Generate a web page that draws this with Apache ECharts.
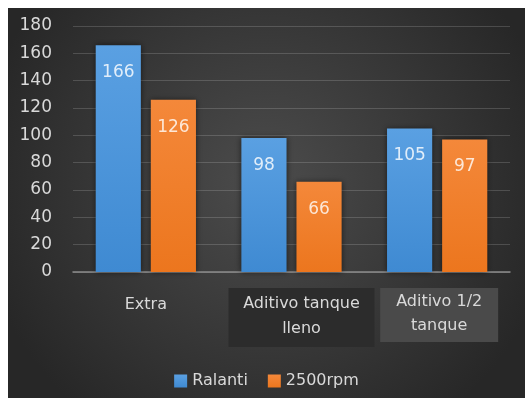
<!DOCTYPE html>
<html>
<head>
<meta charset="utf-8">
<script src="https://cdn.jsdelivr.net/npm/echarts@6/dist/echarts.min.js"></script>
<style>
  html, body { margin: 0; padding: 0; background: #ffffff; }
  #chart { position: absolute; left: 8px; top: 8px; width: 517px; height: 390px; }
</style>
</head>
<body>
<div id="chart"></div>
<script>
// Chart data
const categories = ['Extra', 'Aditivo tanque\nlleno', 'Aditivo 1/2\ntanque'];
const ralanti = [166, 98, 105];
const rpm2500 = [126, 66, 97];
const yTicks = [0, 20, 40, 60, 80, 100, 120, 140, 160, 180];

const FONT = '"DejaVu Sans", "Noto Sans", sans-serif';
const TXT = '#d9d9d9';
const chart = echarts.init(document.getElementById('chart'));

// Label box styles per category (index in categories)
const boxStyle = ['n', 'd', 'l'];
// Transparent spacer tokens placed before each line to nudge a box rightwards
const spacer = ['', '{sp20|}', '{sp4|}'];

function barColor(top, bottom) {
  return new echarts.graphic.LinearGradient(0, 0, 0, 1, [
    { offset: 0, color: top },
    { offset: 1, color: bottom }
  ]);
}

// Rich-text token with a fixed box height
function tok(width, h, bg) {
  const t = {
    color: TXT, fontSize: 16, fontFamily: FONT,
    height: h, lineHeight: h, align: 'center'
  };
  if (width) t.width = width;
  if (bg) t.backgroundColor = bg;
  return t;
}

chart.setOption({
  animation: false,
  backgroundColor: new echarts.graphic.RadialGradient(0.5, 0.45, 0.75, [
    { offset: 0, color: '#4c4c4c' },
    { offset: 1, color: '#272727' }
  ]),
  textStyle: { fontFamily: FONT },
  grid: { left: 65, right: 15, top: 18, bottom: 126 },
  legend: {
    bottom: 4,
    left: 'center',
    itemWidth: 13,
    itemHeight: 13,
    itemGap: 20,
    icon: 'rect',
    textStyle: { color: TXT, fontSize: 16, fontFamily: FONT },
    data: ['Ralanti', '2500rpm']
  },
  xAxis: {
    type: 'category',
    data: categories,
    axisLine: { show: true, lineStyle: { color: '#8c8c8c', width: 1.5 } },
    axisTick: { show: false },
    axisLabel: {
      interval: 0,
      margin: 16,
      color: TXT,
      fontSize: 16,
      fontFamily: FONT,
      formatter: function (value, idx) {
        const s = boxStyle[idx];
        const p = spacer[idx];
        const lines = value.split('\n');
        if (lines.length === 1) return '{' + s + '1|' + lines[0] + '}';
        // trailing empty token extends the box below the second line
        return p + '{' + s + '1|' + lines[0] + '}\n' +
               p + '{' + s + '2|' + lines[1] + '}\n' +
               p + '{' + s + '3| }';
      },
      rich: {
        sp20: { width: 20, height: 1 },
        sp4: { width: 4, height: 1 },
        n1: tok(0, 33),
        d1: tok(146, 32, '#2c2c2c'),
        d2: tok(146, 18, '#2c2c2c'),
        d3: tok(146, 9, '#2c2c2c'),
        l1: tok(118, 28, '#4a4a4a'),
        l2: tok(118, 20, '#4a4a4a'),
        l3: tok(118, 6, '#4a4a4a')
      }
    }
  },
  yAxis: {
    type: 'value',
    min: yTicks[0],
    max: yTicks[yTicks.length - 1],
    interval: yTicks[1] - yTicks[0],
    axisLine: { show: false },
    axisTick: { show: false },
    splitLine: { lineStyle: { color: 'rgba(255,255,255,0.16)', width: 1 } },
    axisLabel: { color: TXT, fontSize: 17, fontFamily: FONT, margin: 21 }
  },
  series: [
    {
      name: 'Ralanti',
      type: 'bar',
      data: ralanti,
      barWidth: '31%',
      barGap: '22%',
      itemStyle: {
        color: barColor('#5aa0e2', '#3f8ad2'),
        shadowBlur: 6,
        shadowColor: 'rgba(0,0,0,0.55)'
      },
      label: {
        show: true,
        position: 'insideTop',
        distance: 19,
        color: 'rgba(255,255,255,0.82)',
        fontSize: 17,
        fontFamily: FONT
      }
    },
    {
      name: '2500rpm',
      type: 'bar',
      data: rpm2500,
      barWidth: '31%',
      itemStyle: {
        color: barColor('#f4883a', '#ec761e'),
        shadowBlur: 6,
        shadowColor: 'rgba(0,0,0,0.55)'
      },
      label: {
        show: true,
        position: 'insideTop',
        distance: 19,
        color: 'rgba(255,255,255,0.8)',
        fontSize: 17,
        fontFamily: FONT
      }
    }
  ]
});
</script>
</body>
</html>
